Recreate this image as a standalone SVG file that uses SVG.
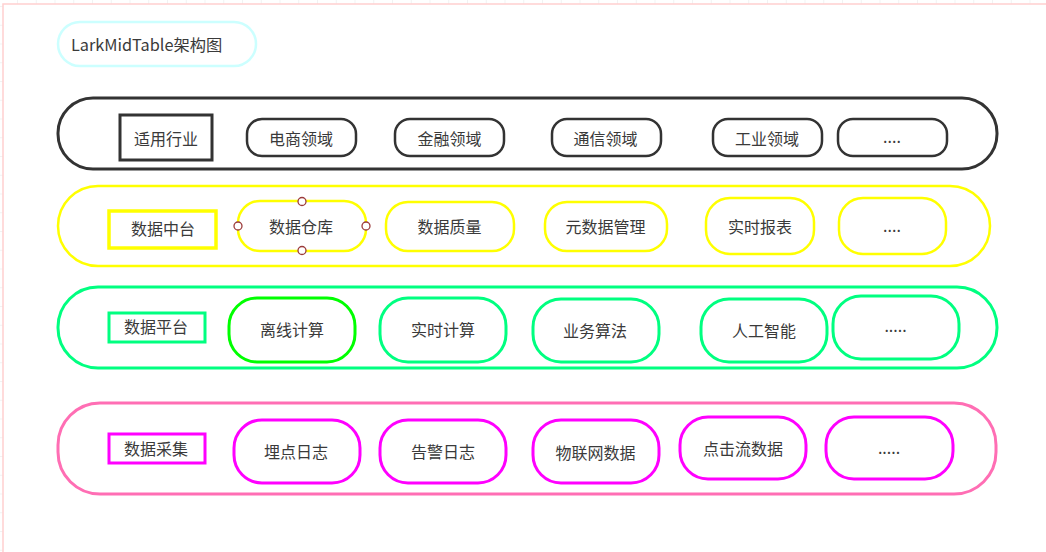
<svg xmlns="http://www.w3.org/2000/svg" width="1046" height="552" viewBox="0 0 1046 552">
<defs>
<pattern id="grid" x="17" y="6" width="18.75" height="18.75" patternUnits="userSpaceOnUse">
<path d="M0 0V18.75M0 0H18.75" fill="none" stroke="#e6e6e6" stroke-width="1"/>
</pattern>
<style>
text{font-family:"Noto Sans CJK SC","Microsoft YaHei",sans-serif;font-size:16px;fill:#3a3a3a;text-anchor:middle;dominant-baseline:central}
.c{fill:#fff}
.k{stroke:#333;stroke-width:2.5}
.y{stroke:#ffff00;stroke-width:2.5}
.g{stroke:#00ff80;stroke-width:3}
.p{stroke:#ff00ff;stroke-width:3}
.h{fill:#fff;stroke:#9b3b3b;stroke-width:1.3}
</style>
</defs>
<rect width="1046" height="552" fill="#fff"/>
<rect width="1046" height="552" fill="url(#grid)"/>
<rect x="3" y="4" width="1050" height="560" fill="#fff" stroke="#ffd0d0" stroke-width="1.5"/>

<g id="title">
<rect x="58" y="22" width="198" height="44" rx="22" fill="#fff" stroke="#ccffff" stroke-width="2.5"/>
<text x="71" y="43.5" style="text-anchor:start;font-size:16.3px">LarkMidTable架构图</text>
</g>

<g id="row-industry">
<rect x="58" y="98" width="939" height="71" rx="35" fill="#fff" stroke="#333" stroke-width="3"/>
<g id="n-industry"><rect x="120" y="115" width="92" height="45" fill="#fff" stroke="#333" stroke-width="3"/><text x="166" y="138">适用行业</text></g>
<g id="n-ecom"><rect class="c k" x="247" y="119" width="109" height="37" rx="15"/><text x="301" y="138">电商领域</text></g>
<g id="n-fin"><rect class="c k" x="395" y="119" width="109" height="37" rx="15"/><text x="449.5" y="137.5">金融领域</text></g>
<g id="n-tel"><rect class="c k" x="552" y="119" width="109" height="37" rx="15"/><text x="605.5" y="137.5">通信领域</text></g>
<g id="n-ind"><rect class="c k" x="713" y="119" width="109" height="37" rx="15"/><text x="767" y="137.5">工业领域</text></g>
<g id="n-more1"><rect class="c k" x="838" y="119" width="109" height="37" rx="15"/><text x="892" y="136">....</text></g>
</g>

<g id="row-middle">
<rect x="58" y="186" width="932" height="80" rx="40" fill="#fff" stroke="#ffff00" stroke-width="2.5"/>
<g id="n-mid"><rect x="109" y="211" width="107" height="37" fill="#fff" stroke="#ffff00" stroke-width="3.5"/><text x="163" y="228">数据中台</text></g>
<g id="n-dw"><rect class="c y" x="238" y="201" width="128" height="50" rx="22"/><text x="301" y="225.5">数据仓库</text>
<circle class="h" cx="302" cy="201.5" r="4"/><circle class="h" cx="302" cy="250.5" r="4"/><circle class="h" cx="238" cy="226" r="4"/><circle class="h" cx="366" cy="226" r="4"/></g>
<g id="n-dq"><rect class="c y" x="386" y="202" width="128" height="49" rx="22"/><text x="449.5" y="225.5">数据质量</text></g>
<g id="n-meta"><rect class="c y" x="545" y="202" width="122" height="49" rx="22"/><text x="605.5" y="225.5">元数据管理</text></g>
<g id="n-rpt"><rect class="c y" x="706" y="198" width="108" height="56" rx="24"/><text x="760" y="225.5">实时报表</text></g>
<g id="n-more2"><rect class="c y" x="839" y="198" width="107" height="56" rx="24"/><text x="892" y="225">....</text></g>
</g>

<g id="row-platform">
<rect x="58" y="287" width="939" height="81" rx="40" fill="#fff" stroke="#00ff80" stroke-width="3"/>
<g id="n-plat"><rect x="109" y="313" width="96" height="29" fill="#fff" stroke="#00ff80" stroke-width="3"/><text x="156" y="326">数据平台</text></g>
<g id="n-off"><rect x="229" y="298" width="126" height="64" rx="28" fill="#fff" stroke="#00ff00" stroke-width="3"/><text x="292" y="329">离线计算</text></g>
<g id="n-rt"><rect class="c g" x="380" y="298" width="126" height="64" rx="28"/><text x="443" y="329">实时计算</text></g>
<g id="n-alg"><rect class="c g" x="533" y="299" width="126" height="63" rx="28"/><text x="595" y="329.5">业务算法</text></g>
<g id="n-ai"><rect class="c g" x="701" y="299" width="126" height="63" rx="28"/><text x="764" y="329.5">人工智能</text></g>
<g id="n-more3"><rect class="c g" x="833" y="296" width="126" height="63" rx="28"/><text x="895.5" y="325">.....</text></g>
</g>

<g id="row-collect">
<rect x="58" y="403" width="938" height="91" rx="42" fill="#fff" stroke="#ff6eb4" stroke-width="3"/>
<g id="n-col"><rect class="c p" x="109" y="434" width="96" height="29"/><text x="156" y="448">数据采集</text></g>
<g id="n-track"><rect class="c p" x="234" y="420" width="126" height="63" rx="28"/><text x="296" y="451">埋点日志</text></g>
<g id="n-alarm"><rect class="c p" x="380" y="420" width="126" height="63" rx="28"/><text x="443" y="451">告警日志</text></g>
<g id="n-iot"><rect class="c p" x="533" y="420" width="126" height="63" rx="28"/><text x="595.5" y="451.5">物联网数据</text></g>
<g id="n-click"><rect class="c p" x="680" y="417" width="126" height="62" rx="28"/><text x="743" y="448">点击流数据</text></g>
<g id="n-more4"><rect class="c p" x="826" y="417" width="127" height="62" rx="28"/><text x="889" y="447">.....</text></g>
</g>

<g id="connectors"></g>
</svg>
